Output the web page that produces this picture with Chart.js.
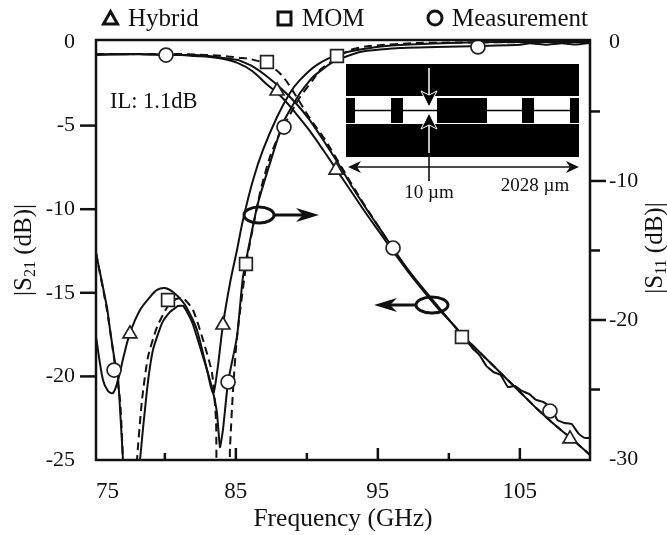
<!DOCTYPE html>
<html>
<head>
<meta charset="utf-8">
<script src="https://cdn.jsdelivr.net/npm/chart.js@4"></script>
<style>
  body { margin: 0; background: #fff; }
  canvas { display: block; }
</style>
</head>
<body>
<canvas id="sparams" width="667" height="535"></canvas>
<script>
const serif = '"Liberation Serif", "Times New Roman", serif';
const ink = "#111";

const xTicks = [75, 80, 85, 90, 95, 100, 105];
const s21Ticks = [0, -5, -10, -15, -20, -25];
const s11Ticks = [0, -5, -10, -15, -20, -25, -30];

// S21
const s21Freq = [75.15, 77.15, 79.15, 80.15, 81.15, 82.15, 83.15, 84.15, 85.15, 86.15, 87.15, 88.15, 89.15, 90.15, 91.15, 92.15, 93.15, 94.15, 95.15, 96.15, 97.15, 98.15, 99.15, 100.15, 101.15, 102.15, 103.15, 104.15, 105.15, 106.15, 107.15, 108.15, 109.15, 109.94];
const s21Hybrid = [-0.75, -0.72, -0.75, -0.78, -0.78, -0.84, -0.90, -1.02, -1.26, -1.73, -2.51, -3.23, -4.19, -5.26, -6.46, -7.72, -8.97, -10.23, -11.42, -12.62, -13.76, -14.83, -15.85, -16.75, -17.7, -18.54, -19.38, -20.22, -21.05, -21.89, -22.67, -23.39, -24.1, -24.7];
const s21Mom = [-0.72, -0.72, -0.72, -0.72, -0.72, -0.75, -0.78, -0.84, -0.93, -1.05, -1.32, -1.91, -3.11, -4.49, -5.68, -7.06, -8.49, -9.87, -11.18, -12.5, -13.7, -14.77, -15.79, -16.75, -17.7, -18.54, -19.38, -20.22, -21.05, -21.89, -22.67, -23.39, -24.1, -24.7];
const s21MeasFreq = [75.15, 76.15, 77.15, 78.15, 79.15, 80.15, 81.15, 82.15, 83.15, 84.15, 85.15, 86.15, 87.15, 88.15, 89.15, 90.15, 91.15, 92.15, 93.15, 94.15, 95.15, 96.15, 97.15, 98.15, 99.15, 100.15, 101.15, 101.65, 102.15, 102.65, 103.15, 103.65, 104.15, 104.65, 105.15, 105.65, 106.15, 106.65, 107.15, 107.65, 108.15, 108.65, 109.15, 109.55, 109.94];
const s21Meas = [-0.78, -0.75, -0.75, -0.72, -0.75, -0.75, -0.78, -0.78, -0.84, -0.96, -1.08, -1.44, -2.03, -2.75, -3.59, -4.61, -5.86, -7.18, -8.61, -9.93, -11.18, -12.44, -13.64, -14.71, -15.73, -16.75, -17.76, -18.3, -18.72, -19.38, -19.74, -19.92, -20.63, -20.57, -20.87, -21.05, -21.41, -21.53, -21.83, -22.61, -22.79, -22.85, -23.44, -23.68, -23.68];

// S11 (values below -30 run out of the frame)
const s11HybridFreq = [75.15, 75.64, 76.0, 76.35, 76.7, 77.12, 77.54, 78.25, 78.95, 79.45, 80.01, 80.57, 81.28, 81.77, 82.26, 82.97, 83.39, 83.67, 84.09, 84.59, 85.08, 85.5, 86.21, 86.91, 87.9, 88.81, 89.52, 90.71, 92.33, 94.45, 96.56, 100.08, 103.6, 109.94];
const s11Hybrid = [-21.22, -24.32, -25.11, -25.25, -24.32, -22.52, -20.94, -19.28, -18.35, -17.84, -17.7, -17.99, -18.71, -19.57, -20.72, -23.6, -25.25, -23.81, -20.36, -17.34, -14.96, -12.81, -9.93, -7.77, -5.4, -3.67, -2.73, -1.65, -0.86, -0.43, -0.22, -0.07, 0, 0];
const s11MomFreq = [75.15, 75.92, 76.49, 76.84, 77.05, 77.12, 77.97, 78.04, 78.39, 78.81, 79.45, 80.22, 80.78, 81.28, 81.98, 82.69, 83.32, 83.6, 83.74, 84.45, 84.59, 84.8, 85.08, 85.78, 86.7, 87.4, 88.11, 89.52, 90.43, 90.92, 92.12, 93.04, 94.45, 97.97, 109.94];
const s11Mom = [-15.18, -19.28, -23.24, -25.76, -30.07, -32.95, -32.95, -30.07, -25.76, -22.66, -20.5, -18.99, -18.49, -18.42, -19.28, -21.44, -23.81, -27.19, -32.95, -32.95, -29.14, -25.04, -21.22, -15.68, -10.86, -8.27, -6.55, -3.96, -2.73, -2.01, -1.15, -0.58, -0.29, -0.07, 0];
const s11MeasFreq = [75.15, 75.92, 76.14, 76.49, 76.7, 77.05, 77.19, 78.11, 78.25, 78.74, 79.16, 79.8, 80.36, 80.64, 80.92, 81.28, 81.56, 81.91, 82.26, 82.97, 83.39, 83.67, 83.88, 84.09, 84.45, 85.08, 85.5, 86.49, 87.19, 88.32, 89.52, 90.43, 91.84, 93.74, 96.56, 102.05, 105.05, 105.71, 106.85, 107.95, 108.95, 109.94];
const s11Meas = [-15.18, -19.06, -20.72, -23.09, -24.1, -30.07, -32.95, -32.95, -30.07, -25.04, -22.16, -20.22, -19.42, -19.21, -18.99, -18.99, -19.42, -20.14, -21.22, -23.6, -25.18, -26.69, -29.14, -27.91, -24.46, -21.22, -16.91, -11.87, -9.42, -5.83, -3.67, -2.52, -1.44, -0.72, -0.43, -0.29, -0.2, -0.1, -0.2, -0.1, -0.18, -0.07];

// symbols sit on a few points only
const triS21Freq = [87.9, 92.05, 108.53];
const triS21 = [-2.93, -7.66, -23.74];
const triS11Freq = [77.54, 84.09];
const triS11 = [-21.0, -20.36];
const sqS21Freq = [87.19, 100.92];
const sqS21 = [-1.2, -17.64];
const sqS11Freq = [80.22, 85.71, 92.12];
const sqS11 = [-18.56, -15.97, -1.01];
const circS21Freq = [80.08, 96.07, 107.12];
const circS21 = [-0.78, -12.32, -22.07];
const circS11Freq = [76.42, 84.45, 88.39, 102.05];
const circS11 = [-23.6, -24.46, -6.12, -0.36];

const legendLabels = ["Hybrid", "MOM", "Measurement"];

function toPoints(xs, ys) {
    return xs.map((x, i) => ({ x: x, y: ys[i] }));
}

function curve(label, xs, ys, axis, dashed, tension) {
    return {
        label: label,
        data: toPoints(xs, ys),
        yAxisID: axis,
        borderColor: ink,
        borderWidth: 2,
        borderDash: dashed ? [8, 5] : [],
        pointRadius: 0,
        tension: tension,
        fill: false,
    };
}

function marks(label, xs, ys, axis, style, radius) {
    return {
        label: label,
        data: toPoints(xs, ys),
        yAxisID: axis,
        showLine: false,
        pointStyle: style,
        pointRadius: radius,
        pointBackgroundColor: "#fff",
        pointBorderColor: "#222",
        pointBorderWidth: 1.7,
    };
}

function arrowHead(ctx, tipX, tipY, dirX, dirY, len, half) {
    const nx = -dirY, ny = dirX;
    ctx.beginPath();
    ctx.moveTo(tipX, tipY);
    ctx.lineTo(tipX - dirX * len + nx * half, tipY - dirY * len + ny * half);
    ctx.lineTo(tipX - dirX * len * 0.7, tipY - dirY * len * 0.7);
    ctx.lineTo(tipX - dirX * len - nx * half, tipY - dirY * len - ny * half);
    ctx.closePath();
    ctx.fill();
}

function drawYTitle(ctx, cx, cy, sub) {
    ctx.save();
    ctx.translate(cx, cy);
    ctx.rotate(-Math.PI / 2);
    ctx.fillStyle = ink;
    ctx.textBaseline = "alphabetic";
    ctx.textAlign = "left";
    const big = "25px " + serif, small = "16px " + serif;
    ctx.font = big;
    const w1 = ctx.measureText("|S").width, w3 = ctx.measureText(" (dB)|").width;
    ctx.font = small;
    const w2 = ctx.measureText(sub).width;
    let x = -(w1 + w2 + w3) / 2;
    ctx.font = big;
    ctx.fillText("|S", x, 8);
    x += w1;
    ctx.font = small;
    ctx.fillText(sub, x, 12);
    x += w2;
    ctx.font = big;
    ctx.fillText(" (dB)|", x, 8);
    ctx.restore();
}

const decorations = {
    id: "decorations",
    afterDatasetsDraw(chart) {
        const ctx = chart.ctx, area = chart.chartArea;
        const xs = chart.scales.x, left = chart.scales.y, right = chart.scales.y1;
        ctx.save();
        ctx.strokeStyle = ink;
        ctx.fillStyle = ink;
        ctx.lineCap = "butt";

        // frame and ticks
        ctx.lineWidth = 2.5;
        ctx.strokeRect(area.left, area.top, area.right - area.left, area.bottom - area.top);
        xTicks.slice(1).forEach((v) => {
            const px = xs.getPixelForValue(v);
            ctx.beginPath();
            ctx.moveTo(px, area.bottom);
            ctx.lineTo(px, area.bottom - (v % 10 === 5 ? 12 : 7));
            ctx.stroke();
        });
        s21Ticks.slice(1, -1).forEach((v) => {
            const py = left.getPixelForValue(v);
            ctx.beginPath();
            ctx.moveTo(area.left, py);
            ctx.lineTo(area.left - 16, py);
            ctx.stroke();
        });
        s11Ticks.slice(1, -1).forEach((v) => {
            const py = right.getPixelForValue(v);
            ctx.beginPath();
            ctx.moveTo(area.right, py);
            ctx.lineTo(area.right + (v % 10 === 0 ? 16 : 10), py);
            ctx.stroke();
        });

        // the two ellipse + arrow call-outs
        ctx.lineWidth = 3;
        ctx.beginPath();
        ctx.ellipse(259, 215, 15, 8, 0, 0, Math.PI * 2);
        ctx.stroke();
        ctx.beginPath();
        ctx.moveTo(274, 215);
        ctx.lineTo(305, 215);
        ctx.stroke();
        arrowHead(ctx, 319, 215, 1, 0, 23, 7);
        ctx.beginPath();
        ctx.ellipse(432, 305, 16, 8, 0, 0, Math.PI * 2);
        ctx.stroke();
        ctx.beginPath();
        ctx.moveTo(416, 305);
        ctx.lineTo(388, 305);
        ctx.stroke();
        arrowHead(ctx, 374, 305, -1, 0, 23, 7);

        // inset layout picture
        ctx.fillStyle = "#000";
        ctx.fillRect(346, 64, 233, 32);
        ctx.fillRect(346, 124, 233, 33);
        [[346, 9], [391, 12], [437, 50], [522, 12], [570, 9]].forEach((b) => {
            ctx.fillRect(b[0], 98, b[1], 25);
        });
        ctx.lineWidth = 1.5;
        ctx.strokeStyle = "#000";
        ctx.beginPath();
        ctx.moveTo(355, 110.5);
        ctx.lineTo(570, 110.5);
        ctx.stroke();
        ctx.lineWidth = 1.5;
        ctx.strokeStyle = "#fff";
        ctx.beginPath();
        ctx.moveTo(429, 68);
        ctx.lineTo(429, 95);
        ctx.moveTo(429, 125);
        ctx.lineTo(429, 153);
        ctx.stroke();
        ctx.fillStyle = "#000";
        ctx.lineWidth = 1;
        ctx.beginPath();
        ctx.moveTo(429, 107);
        ctx.lineTo(421, 91);
        ctx.lineTo(429, 95);
        ctx.lineTo(437, 91);
        ctx.closePath();
        ctx.fill();
        ctx.stroke();
        ctx.beginPath();
        ctx.moveTo(429, 113);
        ctx.lineTo(421, 129);
        ctx.lineTo(429, 125);
        ctx.lineTo(437, 129);
        ctx.closePath();
        ctx.fill();
        ctx.stroke();

        // dimension lines under the inset
        ctx.strokeStyle = ink;
        ctx.fillStyle = ink;
        ctx.lineWidth = 1.6;
        ctx.beginPath();
        ctx.moveTo(429, 153);
        ctx.lineTo(429, 181);
        ctx.moveTo(356, 167);
        ctx.lineTo(571, 167);
        ctx.stroke();
        arrowHead(ctx, 348, 167, -1, 0, 13, 6);
        arrowHead(ctx, 579, 167, 1, 0, 13, 6);

        // free text
        ctx.textBaseline = "alphabetic";
        ctx.textAlign = "left";
        ctx.font = "22.5px " + serif;
        ctx.fillText("IL: 1.1dB", 110, 108);
        ctx.textAlign = "center";
        ctx.font = "19px " + serif;
        ctx.fillText("10 \u00b5m", 429, 198);
        ctx.fillText("2028 \u00b5m", 535, 191);

        // legend row
        ctx.textAlign = "left";
        ctx.font = "25px " + serif;
        ctx.lineWidth = 3;
        ctx.lineJoin = "miter";
        ctx.beginPath();
        ctx.moveTo(110.5, 11.5);
        ctx.lineTo(117.5, 24);
        ctx.lineTo(103.5, 24);
        ctx.closePath();
        ctx.stroke();
        ctx.fillText(legendLabels[0], 128, 26);
        ctx.strokeRect(278, 12, 13, 13);
        ctx.fillText(legendLabels[1], 302, 26);
        ctx.beginPath();
        ctx.arc(435, 18, 7, 0, Math.PI * 2);
        ctx.stroke();
        ctx.fillText(legendLabels[2], 452, 26);

        drawYTitle(ctx, 23, 250, "21");
        drawYTitle(ctx, 654, 248, "11");
        ctx.restore();
    },
};

new Chart(document.getElementById("sparams").getContext("2d"), {
    type: "line",
    plugins: [decorations],
    data: {
        datasets: [
            marks("Hybrid", triS21Freq, triS21, "y", "triangle", 8),
            marks("Hybrid S11", triS11Freq, triS11, "y1", "triangle", 8),
            marks("MOM", sqS21Freq, sqS21, "y", "rect", 9),
            marks("MOM S11", sqS11Freq, sqS11, "y1", "rect", 9),
            marks("Measurement", circS21Freq, circS21, "y", "circle", 7),
            marks("Measurement S11", circS11Freq, circS11, "y1", "circle", 7),
            curve("S21 measured", s21MeasFreq, s21Meas, "y", false, 0.1),
            curve("S21 hybrid", s21Freq, s21Hybrid, "y", false, 0.35),
            curve("S21 MOM", s21Freq, s21Mom, "y", true, 0.35),
            curve("S11 measured", s11MeasFreq, s11Meas, "y1", false, 0.15),
            curve("S11 hybrid", s11HybridFreq, s11Hybrid, "y1", false, 0.3),
            curve("S11 MOM", s11MomFreq, s11Mom, "y1", true, 0.2),
        ],
    },
    options: {
        responsive: false,
        animation: false,
        layout: { padding: { top: 40 } },
        plugins: {
            legend: { display: false },
            tooltip: { enabled: false },
        },
        scales: {
            x: {
                type: "linear",
                min: 75.15,
                max: 109.94,
                afterBuildTicks: (scale) => {
                    scale.ticks = xTicks.map((v) => ({ value: Math.max(v, scale.min) }));
                    scale.ticks.push({ value: scale.max });
                },
                afterFit: (scale) => { scale.height = 75; },
                grid: { display: false },
                border: { display: false },
                ticks: {
                    align: "inner",
                    autoSkip: false,
                    maxRotation: 0,
                    padding: 10,
                    color: ink,
                    font: { family: serif, size: 23 },
                    callback: (value) => {
                        const v = Math.floor(value);
                        return v % 10 === 5 && value < 109 ? String(v) : "";
                    },
                },
                title: {
                    display: true,
                    text: "Frequency (GHz)",
                    color: ink,
                    font: { family: serif, size: 25.5 },
                    padding: { top: 0, bottom: 0 },
                },
            },
            y: {
                position: "left",
                min: -25,
                max: 0.12,
                afterBuildTicks: (scale) => { scale.ticks = s21Ticks.map((v) => ({ value: v })); },
                afterFit: (scale) => { scale.width = 96; },
                grid: { display: false },
                border: { display: false },
                ticks: {
                    padding: 13,
                    color: ink,
                    font: { family: serif, size: 22 },
                    callback: (value) => String(value),
                },
            },
            y1: {
                position: "right",
                min: -30.07,
                max: 0.14,
                afterBuildTicks: (scale) => { scale.ticks = s11Ticks.map((v) => ({ value: v })); },
                afterFit: (scale) => { scale.width = 77; },
                grid: { display: false },
                border: { display: false },
                ticks: {
                    autoSkip: false,
                    padding: 11,
                    color: ink,
                    font: { family: serif, size: 22 },
                    callback: (value) => (value % 10 === 0 ? String(value) : ""),
                },
            },
        },
    },
});
</script>
</body>
</html>
